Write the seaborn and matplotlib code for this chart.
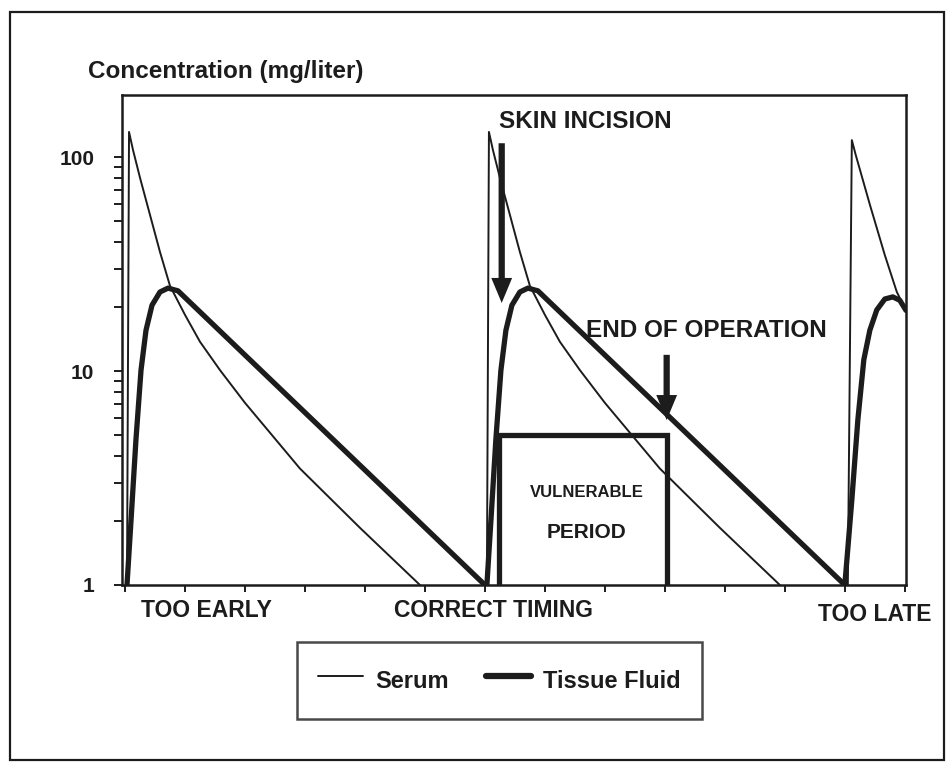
import numpy as np
import pandas as pd
import matplotlib
matplotlib.use('Agg')
import matplotlib.pyplot as plt
from matplotlib.lines import Line2D
from matplotlib.patches import Rectangle
from matplotlib.ticker import FixedLocator
import seaborn as sns

# hours after first dose; doses at 0, 6 and 12 h
serum1_t = [0.033, 0.067, 0.133, 0.25, 0.417, 0.583, 0.75, 1.0, 1.25, 1.583, 2.0, 2.917, 3.917, 4.917]
serum1_c = [1.0, 131, 108, 80, 53.6, 36, 25, 18.3, 13.7, 10.1, 7.1, 3.5, 1.85, 1.0]
serum2_t = [6.033, 6.067, 6.133, 6.25, 6.417, 6.583, 6.75, 7.0, 7.25, 7.583, 8.0, 8.917, 9.917, 10.917]
serum2_c = [1.0, 131, 108, 80, 53.6, 36, 25, 18.3, 13.7, 10.1, 7.1, 3.5, 1.85, 1.0]
serum3_t = [12.05, 12.117, 12.183, 12.417, 12.667, 12.867, 13.083]
serum3_c = [1.0, 120, 102, 60, 34.8, 23.4, 17.7]

tissue1_t = [0.033, 0.1, 0.183, 0.267, 0.35, 0.45, 0.583, 0.717, 0.883, 6.0]
tissue1_c = [1.0, 2.0, 4.8, 10.1, 15.5, 20.3, 23.4, 24.4, 23.7, 1.0]
tissue2_t = [6.033, 6.1, 6.183, 6.267, 6.35, 6.45, 6.583, 6.717, 6.883, 12.0]
tissue2_c = [1.0, 2.0, 4.8, 10.1, 15.5, 20.3, 23.4, 24.4, 23.7, 1.0]
tissue3_t = [12.0, 12.117, 12.217, 12.317, 12.417, 12.533, 12.667, 12.8, 12.917, 13.02]
tissue3_c = [1.0, 2.5, 5.9, 11.3, 15.5, 19.3, 21.7, 22.2, 21.4, 19.2]

# vulnerable period (skin incision -> end of operation)
vuln_start = 6.23
vuln_end = 9.03
vuln_level = 5.0
incision_t, incision_from, incision_to = 6.28, 116, 20.8
end_op_t, end_op_from, end_op_to = 9.03, 11.9, 5.9

timing_labels = ['TOO EARLY', 'CORRECT TIMING', 'TOO LATE']
timing_pos = [1.35, 6.15, 12.5]
timing_y = [-0.052, -0.052, -0.06]
y_major = [1, 10, 100]
y_minor = [2, 3, 4, 5, 6, 7, 8, 9, 20, 30, 40, 50, 60, 70, 80, 90]

ink = '#1c1c1c'

rows = []
for name, parts in [('Serum', [(serum1_t, serum1_c), (serum2_t, serum2_c), (serum3_t, serum3_c)]),
                    ('Tissue Fluid', [(tissue1_t, tissue1_c), (tissue2_t, tissue2_c), (tissue3_t, tissue3_c)])]:
    for k, (ts, cs) in enumerate(parts):
        for t, c in zip(ts, cs):
            rows.append({'hour': t, 'conc': c, 'fluid': name, 'cycle': k})
df = pd.DataFrame(rows)

sns.set_style('ticks')
plt.rcParams['font.family'] = ['Liberation Sans', 'DejaVu Sans']
plt.rcParams['axes.edgecolor'] = ink
plt.rcParams['text.color'] = ink
plt.rcParams['xtick.color'] = ink
plt.rcParams['ytick.color'] = ink

fig = plt.figure(figsize=(9.48, 7.64), dpi=100)
ax = fig.add_axes([0.1287, 0.2343, 0.827, 0.6414])

sns.lineplot(data=df[df.fluid == 'Serum'], x='hour', y='conc', units='cycle',
             estimator=None, sort=False, color=ink, lw=1.4, ax=ax)
sns.lineplot(data=df[df.fluid == 'Tissue Fluid'], x='hour', y='conc', units='cycle',
             estimator=None, sort=False, color=ink, lw=3.8, ax=ax)
ax.plot([vuln_start, vuln_start, vuln_end, vuln_end], [1, vuln_level, vuln_level, 1],
        color=ink, lw=3.8, solid_joinstyle='miter')

ax.set_yscale('log')
ax.set_ylim(1, 195)
ax.set_xlim(-0.05, 13.02)
ax.yaxis.set_major_locator(FixedLocator(y_major))
ax.set_yticklabels([str(v) for v in y_major], fontsize=15, fontweight='bold')
ax.yaxis.set_minor_locator(FixedLocator(y_minor))
ax.yaxis.set_minor_formatter(plt.NullFormatter())
ax.set_xticks(range(0, 14))
ax.set_xticklabels([])
ax.tick_params(axis='y', which='both', direction='out', length=6, width=1.4, pad=14)
ax.tick_params(axis='x', direction='out', length=5, width=1.4)
ax.set_xlabel('')
ax.set_ylabel('')
for s in ax.spines.values():
    s.set_linewidth(1.8)
    s.set_visible(True)

arrow_style = 'simple,head_length=1.2,head_width=1.0,tail_width=0.3'
ax.annotate('', xy=(incision_t, incision_to), xytext=(incision_t, incision_from),
            arrowprops=dict(arrowstyle=arrow_style, mutation_scale=15, color=ink,
                            lw=0, shrinkA=0, shrinkB=0))
ax.annotate('', xy=(end_op_t, end_op_to), xytext=(end_op_t, end_op_from),
            arrowprops=dict(arrowstyle=arrow_style, mutation_scale=15, color=ink,
                            lw=0, shrinkA=0, shrinkB=0))
ax.text(7.67, 146, 'SKIN INCISION', fontsize=17.5, fontweight='bold', ha='center', va='center')
ax.text(9.7, 15.5, 'END OF OPERATION', fontsize=17.5, fontweight='bold', ha='center', va='center')
ax.text(7.7, 2.72, 'VULNERABLE', fontsize=12, fontweight='bold', ha='center', va='center')
ax.text(7.7, 1.75, 'PERIOD', fontsize=15, fontweight='bold', ha='center', va='center')

trans = ax.get_xaxis_transform()
for lab, pos, yy in zip(timing_labels, timing_pos, timing_y):
    ax.text(pos, yy, lab, transform=trans, fontsize=16.5, fontweight='bold',
            ha='center', va='center')

fig.text(0.0928, 0.9058, 'Concentration (mg/liter)', fontsize=17.5, fontweight='bold',
         ha='left', va='center')

handles = [Line2D([], [], color=ink, lw=1.4), Line2D([], [], color=ink, lw=4.5, solid_capstyle='round')]
leg = fig.legend(handles, ['Serum', 'Tissue Fluid'], loc='center', bbox_to_anchor=(0.527, 0.109),
                 ncol=2, frameon=True, fancybox=False, prop={'size': 17, 'weight': 'bold'},
                 handlelength=1.9, handletextpad=0.5, columnspacing=1.6, borderpad=0.9,
                 handleheight=1.9)
leg.get_frame().set_edgecolor(ink)
leg.get_frame().set_linewidth(1.8)

fig.patches.append(Rectangle((10 / 948, 4 / 764), 934 / 948, 748 / 764, transform=fig.transFigure,
                             fill=False, edgecolor=ink, lw=1.6))

fig.savefig('out.png', dpi=100)
